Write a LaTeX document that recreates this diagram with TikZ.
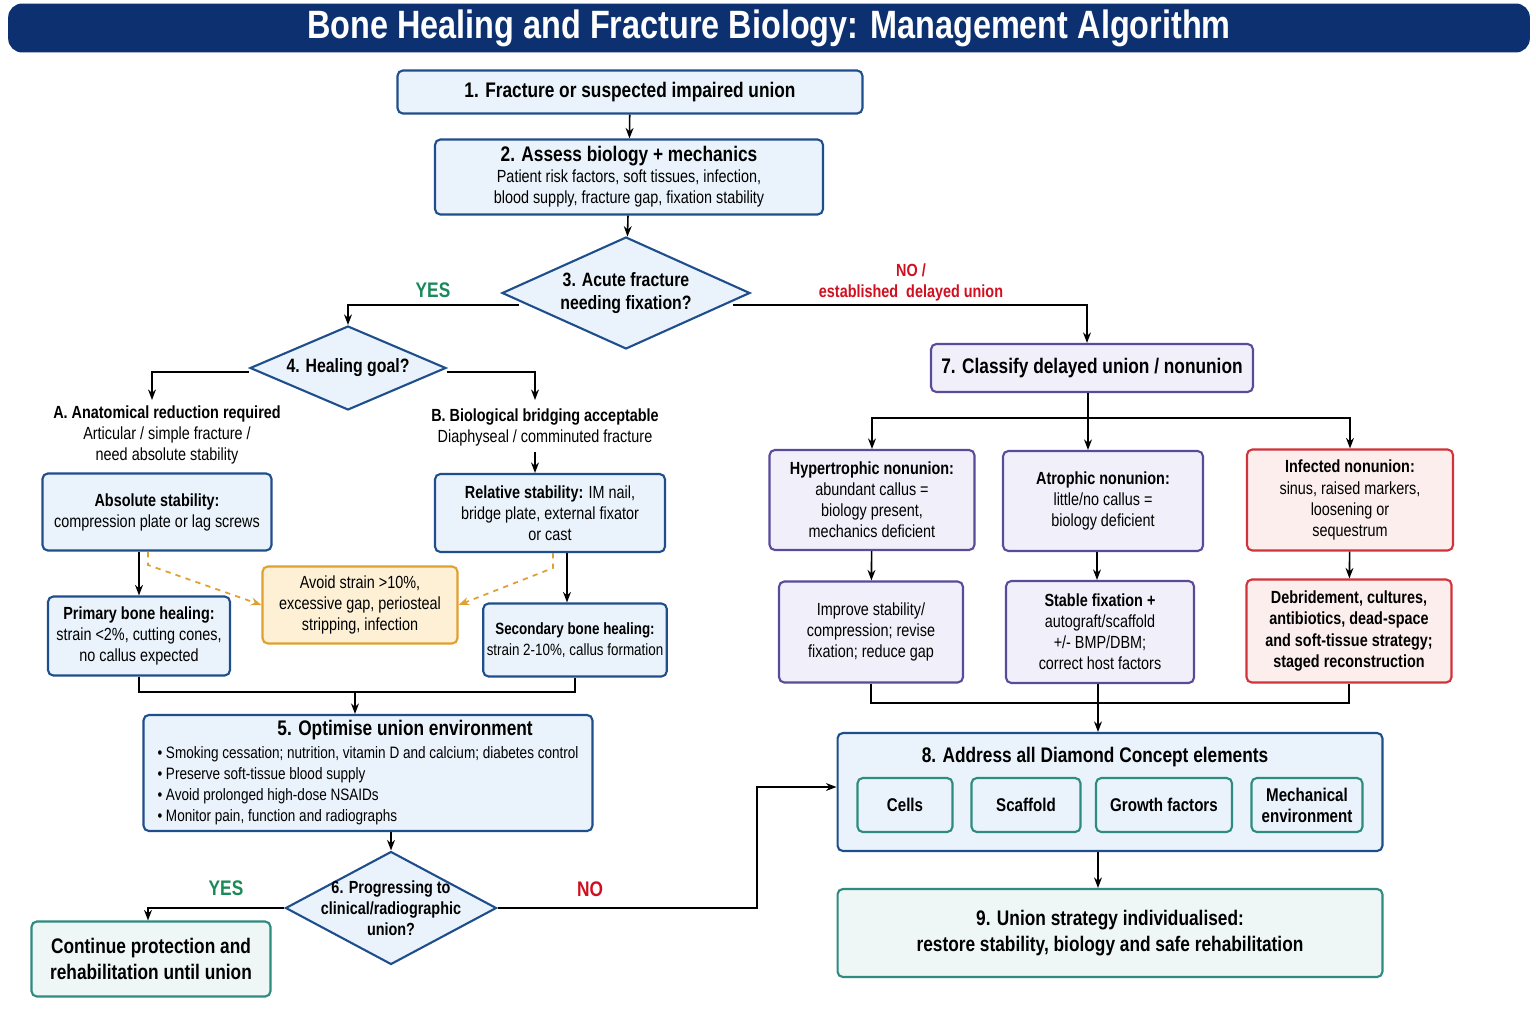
\documentclass[tikz,border=0pt]{standalone}
\usepackage{fontspec}
\setmainfont{Liberation Sans}[FakeStretch=0.82]
\usetikzlibrary{arrows.meta,shapes.geometric,positioning,calc}
\definecolor{navy}{HTML}{0D3170}
\definecolor{bluefill}{HTML}{EAF3FB}
\definecolor{blueline}{HTML}{1F4E8C}
\definecolor{purfill}{HTML}{F1EFF9}
\definecolor{purline}{HTML}{5B4A9A}
\definecolor{redfill}{HTML}{FDEEEE}
\definecolor{redline}{HTML}{D0343A}
\definecolor{orfill}{HTML}{FDF0D5}
\definecolor{orline}{HTML}{E0A030}
\definecolor{tealfill}{HTML}{EEF7F5}
\definecolor{tealline}{HTML}{2E8B80}
\definecolor{yesgreen}{HTML}{1A8A5A}
\definecolor{nored}{HTML}{D01020}
\tikzset{
  bbox/.style={draw=blueline, fill=bluefill, line width=1.2pt, rounded corners=3pt, align=center, inner sep=2pt, font=\fontsize{10}{12}\selectfont},
  pbox/.style={bbox, draw=purline, fill=purfill},
  rbox/.style={bbox, draw=redline, fill=redfill},
  obox/.style={bbox, draw=orline, fill=orfill},
  tbox/.style={bbox, draw=tealline, fill=tealfill},
  dia/.style={draw=blueline, fill=bluefill, line width=1.2pt, diamond, aspect=2.2, align=center, inner sep=0pt, font=\bfseries\fontsize{11}{13}\selectfont},
  plain/.style={align=center, font=\fontsize{10}{12}\selectfont},
  arr/.style={-{Stealth[length=6pt]}, line width=0.9pt},
  lin/.style={line width=0.9pt},
  dasharr/.style={-{Stealth[length=6pt]}, line width=1pt, orline, dashed},
}
\begin{document}
\begin{tikzpicture}[x=0.02cm, y=-0.02cm]
\useasboundingbox (0,0) rectangle (1536,1024);
\fill[white] (0,0) rectangle (1536,1024);
% title
\node[fill=navy, rounded corners=8pt, minimum width=30.44cm, minimum height=0.98cm, text=white, font=\bfseries\fontsize{22.5}{26}\selectfont] (title) at (769,28) {Bone Healing and Fracture Biology: Management Algorithm};
% left column
\node[bbox, minimum width=9.3cm, minimum height=0.86cm, font=\bfseries\fontsize{12}{14}\selectfont] (n1) at (630,92) {1. Fracture or suspected impaired union};
\node[bbox, minimum width=7.76cm, minimum height=1.5cm] (n2) at (629,177) {{\bfseries\fontsize{12}{14}\selectfont 2. Assess biology + mechanics}\\Patient risk factors, soft tissues, infection,\\blood supply, fracture gap, fixation stability};
\node[dia, minimum width=4.96cm, minimum height=2.24cm] (n3) at (626,293) {3. Acute fracture\\needing fixation?};
\node[dia, minimum width=3.92cm, minimum height=1.68cm] (n4) at (348,368) {4. Healing goal?};
\node[plain] (tA) at (167,435) {\textbf{A. Anatomical reduction required}\\Articular / simple fracture /\\need absolute stability};
\node[plain] (tB) at (545,427) {\textbf{B. Biological bridging acceptable}\\Diaphyseal / comminuted fracture};
\node[bbox, minimum width=4.58cm, minimum height=1.54cm] (abs) at (157,512) {\textbf{Absolute stability:}\\compression plate or lag screws};
\node[bbox, minimum width=4.6cm, minimum height=1.56cm] (rel) at (550,513) {\textbf{Relative stability:} IM nail,\\bridge plate, external fixator\\or cast};
\node[obox, minimum width=3.9cm, minimum height=1.54cm] (avoid) at (360,605) {Avoid strain >10\%,\\excessive gap, periosteal\\stripping, infection};
\node[bbox, minimum width=3.64cm, minimum height=1.58cm] (prim) at (139,636) {\textbf{Primary bone healing:}\\strain <2\%, cutting cones,\\no callus expected};
\node[bbox, minimum width=3.56cm, minimum height=1.46cm, font=\fontsize{9.3}{12}\selectfont] (sec) at (575,640) {\textbf{Secondary bone healing:}\\strain 2-10\%, callus formation};
\node[bbox, minimum width=8.98cm, minimum height=2.32cm, align=left] (n5) at (368,773) {\hspace*{2.4cm}{\bfseries\fontsize{12}{14}\selectfont 5. Optimise union environment}\\[1pt]
\fontsize{9.4}{10}\selectfont\textbullet\ Smoking cessation; nutrition, vitamin D and calcium; diabetes control\\
\fontsize{9.4}{10}\selectfont\textbullet\ Preserve soft-tissue blood supply\\
\fontsize{9.4}{10}\selectfont\textbullet\ Avoid prolonged high-dose NSAIDs\\
\fontsize{9.4}{10}\selectfont\textbullet\ Monitor pain, function and radiographs};
\node[dia, aspect=1.9, inner sep=-6pt, minimum width=4.22cm, minimum height=2.26cm, font=\bfseries\fontsize{10}{12}\selectfont] (n6) at (391,908) {6. Progressing to\\clinical/radiographic\\union?};
\node[tbox, minimum width=4.78cm, minimum height=1.5cm, font=\bfseries\fontsize{12}{15}\selectfont] (cont) at (151,959) {Continue protection and\\rehabilitation until union};
% right column
\node[pbox, minimum width=6.44cm, minimum height=0.96cm, font=\bfseries\fontsize{12}{14}\selectfont] (n7) at (1092,368) {7. Classify delayed union / nonunion};
\node[pbox, minimum width=4.1cm, minimum height=2cm] (hyp) at (872,500) {\textbf{Hypertrophic nonunion:}\\abundant callus =\\biology present,\\mechanics deficient};
\node[pbox, minimum width=4cm, minimum height=2cm] (atr) at (1103,501) {\textbf{Atrophic nonunion:}\\little/no callus =\\biology deficient};
\node[rbox, minimum width=4.12cm, minimum height=2.02cm] (inf) at (1350,500) {\textbf{Infected nonunion:}\\sinus, raised markers,\\loosening or\\sequestrum};
\node[pbox, minimum width=3.68cm, minimum height=2.02cm] (imp) at (871,632) {Improve stability/\\compression; revise\\fixation; reduce gap};
\node[pbox, minimum width=3.76cm, minimum height=2.04cm] (stab) at (1100,632) {\textbf{Stable fixation +}\\autograft/scaffold\\+/- BMP/DBM;\\correct host factors};
\node[rbox, minimum width=4.1cm, minimum height=2.06cm, font=\bfseries\fontsize{10}{12}\selectfont] (deb) at (1349,631) {Debridement, cultures,\\antibiotics, dead-space\\and soft-tissue strategy;\\staged reconstruction};
\node[bbox, minimum width=10.9cm, minimum height=2.36cm] (n8) at (1110,792) {};
\node[font=\bfseries\fontsize{12}{14}\selectfont] (t8) at (1095,757) {8. Address all Diamond Concept elements};
\node[tbox, fill=bluefill, minimum width=1.9cm, minimum height=1.08cm, font=\bfseries\fontsize{10.5}{12}\selectfont] (cells) at (905,805) {Cells};
\node[tbox, fill=bluefill, minimum width=2.18cm, minimum height=1.08cm, font=\bfseries\fontsize{10.5}{12}\selectfont] (scaf) at (1026,805) {Scaffold};
\node[tbox, fill=bluefill, minimum width=2.72cm, minimum height=1.08cm, font=\bfseries\fontsize{10.5}{12}\selectfont] (grow) at (1164,805) {Growth factors};
\node[tbox, fill=bluefill, minimum width=2.22cm, minimum height=1.08cm, font=\bfseries\fontsize{10.5}{12}\selectfont] (mech) at (1307,805) {Mechanical\\environment};
\node[tbox, minimum width=10.9cm, minimum height=1.76cm, font=\bfseries\fontsize{12}{15}\selectfont] (n9) at (1110,933) {9. Union strategy individualised:\\restore stability, biology and safe rehabilitation};
% labels
\node[font=\bfseries\fontsize{12}{14}\selectfont, text=yesgreen] (yes1) at (433,290) {YES};
\node[font=\bfseries\fontsize{10}{12}\selectfont, text=nored, align=center] (no1) at (911,282) {NO /\\established\ \ delayed union};
\node[font=\bfseries\fontsize{12}{14}\selectfont, text=yesgreen] (yes2) at (226,888) {YES};
\node[font=\bfseries\fontsize{12}{14}\selectfont, text=nored] (no2) at (590,889) {NO};
% connectors
\draw[arr] (n1) -- (n2);
\draw[arr] (n2) -- (n3);
\draw[arr] ($(n3.west)+(18,12)$) -| (n4.north);
\draw[arr] ($(n3.east)+(-18,12)$) -| (n7.north -| 1087,0);
\draw[arr] (n4.west |- 0,372) -| (152,400);
\draw[arr] (n4.east |- 0,372) -| (535,400);
\draw[arr] (tB.south -| 535,0) -- (rel.north -| 535,0);
\draw[arr] (abs.south -| prim.north) -- (prim.north);
\draw[arr] (rel.south -| 567,0) -- (sec.north -| 567,0);
\draw[dasharr] (148,552) -- (148,565) -- (avoid.west);
\draw[dasharr] (553,553) -- (553,568) -- (avoid.east);
\coordinate (jn) at (355,692);
\draw[lin] (prim.south) -- (prim.south |- jn) -- (sec.south |- jn) -- (sec.south);
\draw[arr] (jn) -- (n5.north -| jn);
\draw[arr] (n5.south -| n6.north) -- (n6.north);
\draw[arr] (n6.west) -| (cont.north -| 148,0);
\draw[arr] (n6.east) -| (757,787) -- (n8.west |- 0,787);
\coordinate (sp) at (1088,418);
\draw[lin] (n7.south -| sp) -- (sp);
\draw[arr] (sp) -| (hyp.north);
\draw[arr] (sp) -| (inf.north);
\draw[arr] (sp) -- (atr.north -| sp);
\draw[arr] (hyp) -- (imp);
\draw[arr] (atr.south -| 1097,0) -- (stab.north -| 1097,0);
\draw[arr] (inf) -- (deb);
\coordinate (jr) at (1098,703);
\draw[lin] (imp.south) -- (imp.south |- jr) -- (deb.south |- jr) -- (deb.south);
\draw[lin] (stab.south -| jr) -- (jr);
\draw[arr] (jr) -- (n8.north -| jr);
\draw[arr] (n8.south -| jr) -- (n9.north -| jr);
\end{tikzpicture}
\end{document}
